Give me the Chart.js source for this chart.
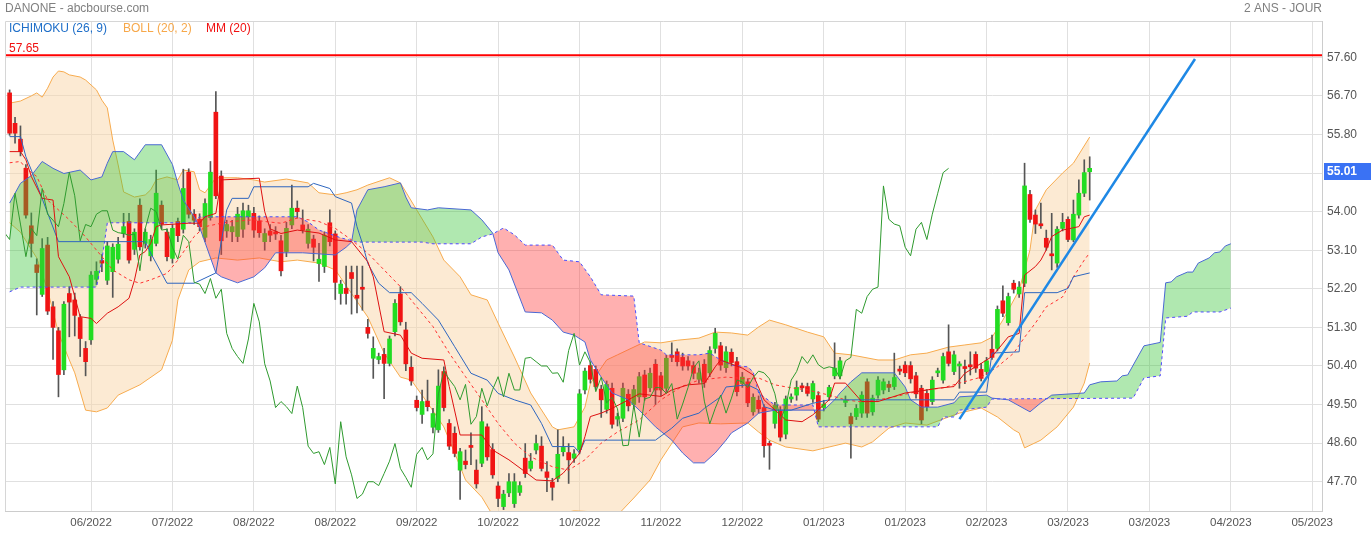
<!DOCTYPE html>
<html><head><meta charset="utf-8">
<script src="https://cdn.jsdelivr.net/npm/chart.js@4/dist/chart.umd.min.js"></script>
<style>html,body{margin:0;padding:0;background:#fff}canvas{display:block}</style>
</head><body>
<canvas id="c" width="1371" height="534" style="width:1371px;height:534px"></canvas>
<script>
// ---------- DATA ----------
const titleLeft = 'DANONE - abcbourse.com';
const titleRight = '2 ANS - JOUR';
const xTicks = [15,30,45,60,75,90,105,120,135,150,165,180,195,210,225,240];
const xLabels = ['06/2022','07/2022','08/2022','08/2022','09/2022','10/2022','10/2022','11/2022','12/2022','01/2023','01/2023','02/2023','03/2023','03/2023','04/2023','05/2023'];
const yTicks = [47.7,48.6,49.5,50.4,51.3,52.2,53.1,54.0,54.9,55.8,56.7,57.6];
const yLabels = ['47.70','48.60','49.50','50.40','51.30','52.20','53.10','54.00','','55.80','56.70','57.60'];

const opens = [56.77,56.06,55.69,55.01,53.67,52.76,52.07,53.22,51.78,51.22,
50.31,52.09,51.94,51.53,50.81,51.01,52.42,52.86,52.40,52.60,
52.89,53.49,53.77,53.12,54.15,53.26,52.97,53.26,54.15,53.52,
52.91,53.77,53.59,54.92,53.94,53.82,53.40,53.86,56.32,54.83,
53.55,53.53,53.42,53.59,53.88,53.96,53.78,53.30,53.55,53.53,
53.32,53.07,53.69,54.08,53.69,53.26,53.36,52.79,52.72,53.74,
53.48,52.09,52.21,52.58,52.05,52.23,51.30,50.58,50.55,50.67,
50.46,51.20,52.08,51.24,50.37,49.60,49.27,49.58,48.97,48.91,
50.27,49.06,48.83,47.97,48.18,48.52,47.97,48.13,48.98,48.45,
47.60,47.12,47.44,47.19,47.45,48.25,48.01,48.44,48.53,47.93,
47.69,47.78,48.40,48.38,48.25,48.45,49.84,50.41,50.32,49.86,
49.39,49.88,49.16,49.18,49.74,49.50,49.68,50.19,49.89,50.44,
50.17,49.88,50.63,50.73,50.60,50.52,50.41,50.09,50.44,50.24,
50.81,50.87,50.36,50.72,50.50,49.99,50.03,49.33,49.60,49.43,
48.58,49.06,49.35,48.81,49.63,49.72,49.92,49.92,49.63,49.71,
49.43,49.68,50.17,50.17,49.55,49.22,49.22,49.30,50.03,49.33,
49.72,49.84,49.97,49.92,50.32,50.42,50.41,50.17,49.88,49.76,
49.57,50.24,50.07,50.73,50.27,50.40,50.36,50.42,50.67,50.32,
50.27,50.79,50.81,51.92,51.41,52.33,52.08,52.33,54.40,53.92,
53.71,53.38,53.00,52.80,53.61,53.82,53.34,53.92,54.43,54.93];
const highs = [56.84,56.20,56.00,55.10,53.97,52.90,53.37,53.40,51.90,51.30,
51.90,52.25,52.10,51.60,50.97,52.60,52.83,53.00,53.30,53.25,
53.40,53.96,53.96,53.60,54.30,53.60,53.45,54.97,54.25,53.60,
53.70,53.85,54.99,55.00,54.05,53.95,54.30,55.17,56.80,54.95,
53.80,53.80,54.10,54.20,54.15,54.10,53.90,53.60,53.70,53.65,
53.45,53.75,54.62,54.25,54.04,53.70,53.45,53.26,53.53,54.04,
53.55,52.40,52.73,52.73,52.73,52.73,51.49,51.08,50.70,50.81,
51.10,51.95,52.25,51.42,50.62,49.70,49.84,50.07,49.41,50.31,
50.38,49.15,48.98,48.48,48.44,48.84,48.21,49.45,49.05,48.59,
47.70,47.50,47.89,47.89,47.70,48.59,48.36,48.79,48.75,48.17,
47.78,48.91,48.75,48.59,48.45,49.85,50.35,50.50,50.40,49.95,
50.05,50.00,49.30,50.00,49.85,49.95,50.25,50.30,50.35,50.55,
50.25,50.65,50.94,50.80,50.70,50.62,50.50,50.35,50.55,50.85,
51.28,50.95,50.85,50.80,50.60,50.25,50.10,49.75,49.70,49.50,
48.65,49.55,49.45,49.70,49.75,50.05,50.00,50.00,50.05,49.80,
49.60,49.95,50.94,50.60,49.70,49.30,49.50,49.80,50.10,49.72,
50.15,50.10,50.05,50.70,50.40,50.50,50.50,50.25,49.95,49.85,
50.15,50.35,50.70,51.36,50.75,50.50,50.54,50.73,50.73,50.46,
50.60,51.12,51.80,52.27,52.10,52.40,52.37,55.13,54.50,54.04,
54.20,53.57,53.96,53.65,53.96,53.88,54.27,54.74,55.21,55.28];
const lows = [55.78,55.60,55.30,53.85,52.94,51.59,52.02,51.60,50.55,49.68,
50.20,51.08,51.10,50.62,50.17,50.90,52.30,52.60,52.30,52.00,
52.80,53.40,52.80,53.00,53.10,53.15,52.85,53.20,53.60,52.85,
52.80,53.30,53.50,53.85,53.70,53.55,53.30,53.80,54.30,53.00,
53.40,53.30,53.30,53.40,53.70,53.40,53.40,53.10,53.30,53.35,
52.50,52.95,53.60,53.85,53.50,53.15,52.85,52.37,52.58,53.20,
51.95,51.84,51.84,51.61,51.64,51.70,51.05,50.11,50.45,49.64,
50.40,51.10,51.35,50.29,49.95,49.35,49.06,49.35,48.84,48.85,
49.35,48.45,48.28,47.29,48.00,48.10,47.55,48.05,48.20,47.78,
47.12,47.05,47.35,47.10,47.38,47.80,47.95,48.35,47.95,47.47,
47.27,47.70,48.30,47.66,48.15,48.35,49.75,50.00,49.85,49.20,
49.30,48.95,49.00,49.10,49.35,49.40,49.55,49.60,49.80,49.50,
49.70,49.80,50.50,50.40,50.30,50.30,50.10,50.00,49.90,50.15,
50.70,50.30,50.25,50.40,49.70,49.90,49.45,49.25,49.30,48.27,
47.99,48.95,48.65,48.70,49.55,49.60,49.80,49.70,49.55,49.10,
49.35,49.60,50.10,50.10,49.45,48.25,49.15,49.20,49.20,49.25,
49.65,49.75,49.80,49.85,50.20,50.15,50.00,49.65,49.05,49.35,
49.50,50.15,50.00,50.40,50.20,49.88,49.99,50.19,50.25,50.05,
50.20,50.55,50.75,51.55,51.35,52.10,52.00,52.25,53.75,53.49,
53.61,53.10,52.64,52.70,53.55,53.30,53.30,53.85,54.35,54.27];
const closes = [55.83,55.83,55.40,53.92,53.26,52.58,53.14,51.68,51.30,50.20,
51.84,51.89,51.58,51.04,50.50,52.52,52.61,52.80,53.20,53.17,
53.24,53.65,52.87,53.52,53.18,53.52,53.35,54.43,53.71,52.95,
53.61,53.44,54.54,53.94,53.80,53.65,54.19,54.92,54.37,53.32,
53.70,53.65,53.94,54.02,54.02,53.57,53.51,53.49,53.45,53.48,
52.62,53.61,54.08,54.00,53.57,53.59,53.17,52.89,53.45,53.30,
52.35,52.31,52.09,52.44,51.98,52.19,51.16,50.81,50.62,50.46,
51.03,51.86,51.43,50.45,50.05,49.43,49.57,49.45,49.29,49.93,
49.43,48.53,48.36,48.40,48.10,48.50,47.65,49.10,48.28,47.86,
47.31,47.41,47.70,47.70,47.61,47.89,48.18,48.59,48.01,47.80,
47.57,48.34,48.50,48.21,48.35,49.75,50.28,50.09,49.92,49.61,
49.97,49.04,49.22,49.88,49.47,49.85,50.15,49.68,50.23,49.84,
49.84,50.58,50.60,50.50,50.40,50.40,50.23,50.24,50.02,50.76,
51.16,50.42,50.73,50.48,49.80,50.14,49.54,49.67,49.40,48.54,
48.55,49.48,48.74,49.63,49.67,49.90,49.89,49.76,49.99,49.16,
49.51,49.90,50.35,50.52,49.58,49.05,49.41,49.72,49.30,49.65,
50.07,50.03,49.90,50.13,50.28,50.24,50.10,49.75,49.14,49.45,
50.07,50.27,50.62,50.46,50.66,50.43,50.34,50.38,50.35,50.11,
50.52,50.60,51.72,51.63,52.02,52.19,52.24,54.60,53.82,53.71,
53.67,53.17,52.97,53.59,53.75,53.35,53.94,54.43,54.91,55.01];

const bollUpper = [[0,56.53],[2,56.58],[4,56.70],[5,56.77],[6,56.67],[7,56.88],[8,57.14],[9,57.28],[10,57.26],[11,57.19],[13,57.14],[14,57.07],[16,56.84],[17,56.60],[18,56.42],[19,55.67],[20,55.09],[21,54.46],[23,54.34],[25,54.39],[26,54.51],[27,54.74],[29,54.81],[31,54.74],[32,54.97],[34,54.93],[35,54.51],[36,54.44],[38,54.79],[42,54.79],[45,54.74],[47,54.69],[51,54.76],[55,54.67],[57,54.44],[60,54.39],[62,54.44],[64,54.51],[66,54.62],[70,54.79],[72,54.67],[75,54.04],[78,53.41],[80,52.87],[83,52.48],[85,52.06],[88,51.94],[90,51.40],[93,50.61],[96,49.77],[100,48.98],[101,48.91],[104,48.98],[106,49.44],[107,49.99],[110,50.54],[112,50.66],[117,50.96],[120,50.94],[123,51.00],[127,51.05],[130,51.19],[133,51.17],[136,51.12],[138,51.31],[140,51.47],[143,51.36],[147,51.19],[150,51.08],[152,50.70],[155,50.66],[160,50.54],[163,50.54],[166,50.66],[169,50.70],[173,50.84],[176,50.89],[179,50.94],[181,51.07],[183,51.47],[186,52.17],[188,53.11],[189,54.04],[191,54.51],[194,54.90],[196,55.13],[199,55.74]];
const bollLower = [[0,53.74],[2,53.52],[5,52.92],[7,52.17],[9,51.17],[11,50.54],[12,50.24],[14,49.37],[16,49.33],[18,49.42],[20,49.72],[24,49.96],[28,50.31],[30,51.00],[31,51.94],[33,52.64],[35,52.83],[38,52.92],[42,52.87],[46,52.92],[50,52.83],[53,52.87],[57,52.80],[60,52.64],[66,51.54],[69,50.70],[72,50.14],[74,50.07],[77,49.54],[80,48.98],[82,48.37],[84,47.74],[87,47.34],[89,46.92],[94,46.70],[99,46.76],[102,46.97],[104,47.02],[109,46.99],[112,46.92],[115,47.32],[118,47.74],[120,48.21],[124,48.98],[127,49.07],[131,49.05],[136,49.07],[138,48.86],[140,48.67],[143,48.51],[148,48.42],[151,48.51],[154,48.60],[157,48.51],[159,48.63],[162,48.95],[165,49.07],[169,49.02],[173,49.21],[175,49.30],[179,49.42],[182,49.21],[185,48.91],[186,48.84],[187,48.49],[190,48.67],[193,48.98],[196,49.44],[198,50.00],[199,50.47]];
const mm20 = [[0,55.14],[2,55.17],[3,55.01],[5,54.82],[7,54.27],[11,53.81],[14,53.41],[17,52.95],[19,52.64],[22,52.41],[24,52.33],[26,52.41],[29,52.56],[31,52.87],[34,53.42],[36,53.65],[39,53.73],[41,53.77],[45,53.81],[47,53.77],[50,53.73],[53,53.85],[57,53.77],[60,53.61],[63,53.34],[66,53.03],[69,52.64],[72,52.25],[75,51.78],[78,51.32],[81,50.70],[84,50.15],[87,49.61],[90,49.06],[93,48.60],[96,48.28],[100,48.05],[103,47.97],[106,48.21],[109,48.60],[112,48.86],[116,49.14],[120,49.61],[124,49.93],[127,50.07],[132,50.14],[136,50.10],[138,50.12],[141,49.96],[144,49.89],[147,49.84],[151,49.72],[154,49.61],[157,49.56],[160,49.61],[163,49.68],[166,49.77],[169,49.84],[172,49.89],[175,50.00],[179,50.14],[182,50.38],[185,50.70],[187,51.07],[189,51.40],[191,51.78],[194,52.01],[196,52.48],[198,52.87],[199,53.04]];
const tenkan = [[0,55.40],[2,55.40],[3,55.21],[4,54.82],[6,54.31],[8,54.27],[9,52.95],[11,52.48],[12,52.02],[13,51.55],[15,51.51],[16,51.39],[18,51.63],[20,51.78],[22,51.98],[23,52.40],[24,52.99],[25,53.07],[26,53.26],[27,53.65],[28,53.69],[33,53.73],[35,53.73],[36,53.88],[38,53.96],[39,54.74],[46,54.78],[47,54.00],[48,53.60],[50,53.49],[53,53.57],[57,53.50],[60,53.34],[63,53.30],[66,52.83],[67,52.48],[69,51.20],[72,51.12],[74,50.70],[76,50.58],[80,50.54],[81,49.92],[83,48.79],[87,48.79],[89,48.44],[92,48.21],[95,47.93],[97,47.74],[100,47.72],[102,47.90],[103,48.05],[105,48.36],[106,48.75],[107,49.22],[109,49.30],[111,49.41],[114,49.61],[116,49.75],[120,49.69],[122,49.84],[125,49.96],[128,49.99],[130,50.38],[131,50.54],[135,50.35],[137,50.19],[139,49.61],[143,49.14],[146,49.10],[148,49.26],[151,49.61],[152,50.00],[154,50.00],[157,49.57],[160,49.57],[165,49.77],[169,49.84],[171,49.88],[174,49.92],[176,50.23],[179,50.46],[181,50.62],[182,50.77],[184,51.08],[186,51.16],[187,52.52],[189,52.72],[190,52.87],[191,53.11],[192,53.42],[194,53.57],[197,53.65],[198,53.88],[199,53.92]];
const kijun = [[0,55.75],[2,55.75],[3,55.28],[4,54.97],[9,53.30],[25,53.30],[26,53.03],[29,52.33],[34,52.33],[38,52.57],[40,54.04],[41,54.31],[44,54.31],[45,54.58],[55,54.58],[56,54.66],[59,54.54],[60,54.35],[63,54.20],[64,53.65],[65,53.26],[66,52.79],[68,52.33],[70,52.11],[74,52.11],[76,51.86],[79,51.47],[82,50.85],[85,50.23],[88,50.07],[90,49.76],[93,49.61],[96,49.49],[98,49.06],[100,48.52],[104,48.52],[105,48.37],[106,48.67],[119,48.67],[122,48.95],[124,49.18],[127,49.30],[128,49.41],[131,49.68],[132,49.91],[136,49.96],[138,49.84],[139,49.45],[141,49.37],[144,49.37],[148,49.53],[151,49.61],[174,49.61],[175,49.79],[180,49.79],[181,50.70],[186,50.73],[187,52.11],[193,52.11],[195,52.21],[196,52.48],[199,52.57]];
const spanA = [[0,54.20],[2,54.66],[4,54.84],[6,55.17],[8,55.01],[10,54.89],[13,54.97],[15,54.74],[17,54.81],[18,55.13],[19,55.40],[21,55.40],[23,55.21],[25,55.56],[28,55.56],[30,55.10],[31,54.66],[32,54.27],[34,53.88],[35,53.64],[38,52.57],[39,52.48],[42,52.34],[45,52.48],[47,52.69],[49,53.04],[54,53.04],[60,52.99],[62,53.17],[63,53.29],[64,54.04],[66,54.51],[69,54.58],[72,54.67],[73,54.34],[74,54.09],[77,54.04],[79,54.09],[85,54.04],[87,53.81],[89,53.50],[90,53.04],[92,52.64],[95,51.66],[98,51.64],[100,51.47],[102,51.19],[104,51.12],[106,50.96],[107,50.54],[109,50.14],[111,49.77],[114,49.61],[116,49.37],[119,48.98],[122,48.67],[124,48.37],[126,48.14],[128,48.14],[130,48.37],[132,48.67],[133,48.84],[136,49.07],[138,49.30],[141,49.37],[150,49.37],[152,49.61],[153,49.77],[155,50.03],[157,50.24],[163,50.24],[165,49.91],[166,49.61],[168,49.44],[171,49.44],[174,49.54],[175,49.68],[180,49.72],[181,49.65],[184,49.61],[188,49.33],[190,49.54],[192,49.72],[198,49.77],[199,49.96],[201,50.03],[204,50.05],[205,50.17],[206,50.19],[209,50.87],[212,50.95],[213,52.34],[214,52.36],[215,52.48],[217,52.59],[218,52.59],[219,52.80],[221,52.92],[222,53.04],[223,53.06],[224,53.20],[225,53.25]];
const spanB = [[0,52.13],[2,52.24],[16,52.24],[17,52.87],[18,53.74],[34,53.74],[35,53.88],[53,53.88],[55,53.76],[57,53.57],[61,53.39],[64,53.29],[76,53.29],[78,53.25],[85,53.25],[87,53.41],[89,53.48],[91,53.62],[93,53.46],[95,53.22],[100,53.22],[102,52.87],[105,52.83],[107,52.48],[109,52.06],[115,52.03],[116,50.94],[120,50.77],[121,50.66],[127,50.66],[129,50.70],[131,50.54],[133,50.42],[136,50.38],[137,50.26],[138,49.77],[141,49.49],[148,49.49],[149,48.98],[171,48.98],[172,49.21],[174,49.21],[175,49.37],[180,49.44],[181,49.63],[207,49.65],[209,50.12],[212,50.17],[213,51.52],[217,51.56],[218,51.66],[223,51.66],[225,51.75]];
const chikouShift = 26;
const trendLine = [[175,49.16],[218.4,57.56]];
const levelValue = 57.65;
// ---------------------------------------------------

const FONT = '"Liberation Sans", Arial, Helvetica, sans-serif';
Chart.defaults.font.family = FONT;
const pts = a => a.map(([x, y]) => ({x, y}));
const idx = closes.map((_, i) => i);
const GREEN = '#22dc22', RED = '#f01414';

const lineDs = (data, color, extra) => Object.assign({
  type: 'line', data, borderColor: color, borderWidth: 1, pointRadius: 0,
  tension: 0, fill: false
}, extra || {});

const datasets = [
  lineDs(pts(bollUpper), '#f7ab4e', {order: 20, fill: {target: 1, above: 'rgba(250,214,168,0.5)', below: 'rgba(250,214,168,0.5)'}}),
  lineDs(pts(bollLower), '#f7ab4e', {order: 19}),
  {type: 'bar', data: idx.map(i => ({x: i, y: [lows[i], highs[i]]})), backgroundColor: '#555', barThickness: 1, grouped: false, order: 18},
  {type: 'bar', data: idx.map(i => ({x: i, y: [opens[i], closes[i]]})), backgroundColor: idx.map(i => closes[i] >= opens[i] ? GREEN : RED), barThickness: 4, grouped: false, minBarLength: 2, order: 17},
  lineDs(pts(spanA), '#4a68d4', {order: 16, fill: {target: 5, above: 'rgba(58,198,58,0.4)', below: 'rgba(255,58,58,0.4)'}}),
  lineDs(pts(spanB), '#4b4bff', {order: 15, borderDash: [3, 3]}),
  lineDs(pts(mm20), '#ff3030', {order: 14, borderDash: [3, 3]}),
  lineDs(pts(kijun), '#2e66bf', {order: 13}),
  lineDs(pts(tenkan), '#dd1010', {order: 12}),
  lineDs(closes.map((c, i) => ({x: i - chikouShift, y: c})), '#2e9a2e', {order: 11}),
  lineDs(pts(trendLine), '#1e88e5', {order: 10, borderWidth: 2.5}),
  lineDs([{x: -2, y: levelValue}, {x: 245, y: levelValue}], '#ff0000', {order: 9, borderWidth: 2})
];

const overlay = {
  id: 'overlay',
  afterDraw(chart) {
    const {ctx, chartArea: a} = chart;
    const y = chart.scales.y;
    ctx.save();
    ctx.strokeStyle = '#d6d6d6'; ctx.lineWidth = 1;
    ctx.beginPath();
    ctx.moveTo(a.left + 0.5, a.bottom); ctx.lineTo(a.left + 0.5, a.top + 0.5); ctx.lineTo(a.right, a.top + 0.5);
    ctx.stroke();
    ctx.font = '12px ' + FONT;
    ctx.textBaseline = 'middle';
    ctx.fillStyle = '#808080';
    ctx.textAlign = 'left';
    ctx.fillText(titleLeft, 5, 9);
    ctx.textAlign = 'right';
    ctx.fillText(titleRight, a.right, 9);
    ctx.textAlign = 'left';
    ctx.fillStyle = '#1e6ec8'; ctx.fillText('ICHIMOKU (26, 9)', 9, 29);
    ctx.fillStyle = '#f7a84a'; ctx.fillText('BOLL (20, 2)', 123, 29);
    ctx.fillStyle = '#f01010'; ctx.fillText('MM (20)', 206, 29);
    ctx.fillStyle = '#f01010'; ctx.fillText(levelValue.toFixed(2), 9, 49);
    const last = closes[closes.length - 1];
    const py = Math.round(y.getPixelForValue(last)) + 3;
    ctx.fillStyle = '#3a72f4';
    ctx.fillRect(a.right + 2, py - 8, chart.width - a.right - 2, 17);
    ctx.fillStyle = '#ffffff';
    ctx.font = 'bold 12px ' + FONT;
    ctx.fillText(last.toFixed(2), a.right + 5, py + 0.5);
    ctx.restore();
  }
};

new Chart(document.getElementById('c'), {
  type: 'line',
  data: {datasets},
  options: {
    responsive: false,
    devicePixelRatio: 1,
    animation: false,
    events: [],
    layout: {padding: {left: 5, top: 21, right: 0, bottom: 0}},
    plugins: {legend: {display: false}, tooltip: {enabled: false}, title: {display: false}},
    scales: {
      x: {
        type: 'linear', min: -0.85, max: 241.8, offset: false,
        afterBuildTicks: s => { s.ticks = xTicks.map(v => ({value: v})); },
        afterFit: s => { s.height = 23; },
        grid: {color: '#e0e0e0', drawTicks: false, offset: false},
        border: {color: '#cccccc'},
        ticks: {padding: 5, color: '#555', font: {size: 11.5}, maxRotation: 0, autoSkip: false,
          callback: (v, i) => xLabels[i]}
      },
      y: {
        type: 'linear', position: 'right', min: 47.017, max: 58.447, beginAtZero: false,
        afterBuildTicks: s => { s.ticks = yTicks.map(v => ({value: v})); },
        afterFit: s => { s.width = 49; },
        grid: {color: '#e0e0e0', drawTicks: false, offset: false},
        border: {color: '#cccccc'},
        ticks: {padding: 5, color: '#555', font: {size: 12}, autoSkip: false,
          callback: (v, i) => yLabels[i]}
      }
    }
  },
  plugins: [overlay]
});
</script>
</body></html>
